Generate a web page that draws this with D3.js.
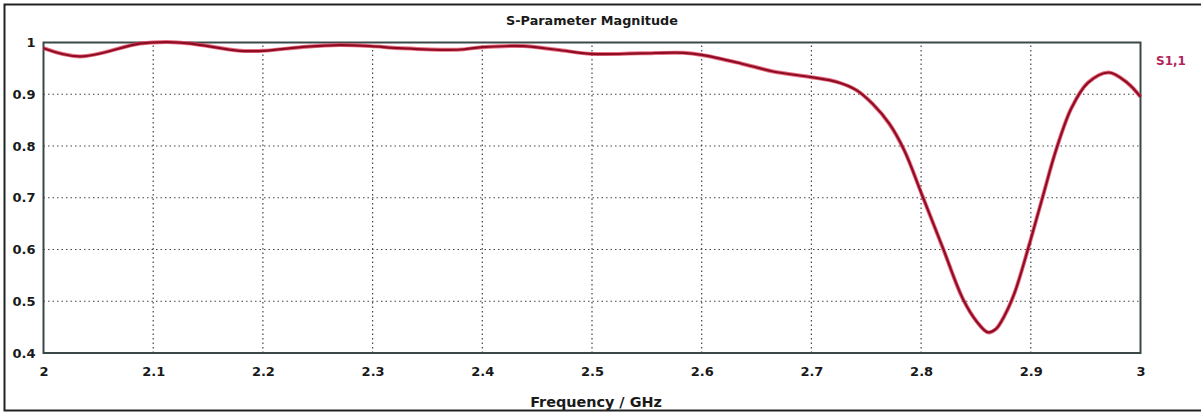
<!DOCTYPE html>
<html>
<head>
<meta charset="utf-8">
<script src="https://cdn.jsdelivr.net/npm/d3@7"></script>
<style>
  body { margin: 0; background: #fff; }
  text { font-family: "DejaVu Sans", Verdana, sans-serif; font-weight: bold; }
</style>
</head>
<body>
<div id="chart"></div>
<script>
// S1,1 magnitude
var freq = [2.0, 2.033, 2.088, 2.113, 2.134, 2.179, 2.2, 2.24, 2.27, 2.298,
  2.325, 2.377, 2.4, 2.437, 2.468, 2.5, 2.544, 2.583, 2.6, 2.635, 2.665,
  2.7, 2.723, 2.741, 2.756, 2.771, 2.785, 2.8, 2.82, 2.838, 2.851, 2.861,
  2.868, 2.876, 2.885, 2.898, 2.911, 2.923, 2.937, 2.952, 2.971, 2.988, 3.0];
var s11 = [0.989, 0.973, 0.998, 1.001, 0.998, 0.984, 0.984, 0.992, 0.995, 0.993,
  0.989, 0.986, 0.991, 0.993, 0.986, 0.978, 0.979, 0.980, 0.976, 0.960, 0.944,
  0.933, 0.924, 0.908, 0.881, 0.843, 0.790, 0.710, 0.602, 0.505, 0.460, 0.440,
  0.446, 0.472, 0.515, 0.605, 0.703, 0.792, 0.873, 0.922, 0.942, 0.922, 0.895];

var xTicks = [2, 2.1, 2.2, 2.3, 2.4, 2.5, 2.6, 2.7, 2.8, 2.9, 3];
var yTicks = [0.4, 0.5, 0.6, 0.7, 0.8, 0.9, 1];

var width = 1201, height = 413;
var margin = {left: 43.5, right: 60.5, top: 42.5, bottom: 60};

var svg = d3.select("#chart").append("svg")
    .attr("width", width)
    .attr("height", height);

// outer frame
svg.append("rect")
    .attr("x", 4.5).attr("y", 4.5)
    .attr("width", width + 10).attr("height", height - 7)
    .style("fill", "none")
    .style("stroke", "#222")
    .style("stroke-width", 2);

var x = d3.scaleLinear().domain([2, 3]).range([margin.left, width - margin.right]);
var y = d3.scaleLinear().domain([0.4, 1]).range([height - margin.bottom, margin.top]);

// dotted grid
var grid = svg.append("g").attr("class", "grid");
grid.selectAll(".vx")
    .data(xTicks.slice(1, -1))
  .enter().append("line")
    .attr("x1", d => x(d)).attr("x2", d => x(d))
    .attr("y1", y(0.4)).attr("y2", y(1))
    .style("stroke", "#444")
    .style("stroke-width", 1.2)
    .style("stroke-dasharray", "1.5,3");
grid.selectAll(".hy")
    .data(yTicks.slice(1, -1))
  .enter().append("line")
    .attr("x1", x(2)).attr("x2", x(3))
    .attr("y1", d => y(d)).attr("y2", d => y(d))
    .style("stroke", "#444")
    .style("stroke-width", 1.2)
    .style("stroke-dasharray", "1.5,3");

// plot frame
svg.append("rect")
    .attr("x", x(2)).attr("y", y(1))
    .attr("width", x(3) - x(2)).attr("height", y(0.4) - y(1))
    .style("fill", "none")
    .style("stroke", "#3a4848")
    .style("stroke-width", 2);

// axes
var xAxis = svg.append("g")
    .attr("transform", "translate(0," + y(0.4) + ")")
    .call(d3.axisBottom(x).tickValues(xTicks).tickSize(0).tickPadding(14)
      .tickFormat(d3.format("")));
var yAxis = svg.append("g")
    .attr("transform", "translate(" + x(2) + ",0)")
    .call(d3.axisLeft(y).tickValues(yTicks).tickSize(0).tickPadding(8)
      .tickFormat(d3.format("")));
[xAxis, yAxis].forEach(function(a) {
    a.select(".domain").remove();
    a.selectAll("text")
      .style("font-size", "13px")
      .style("font-family", "DejaVu Sans, Verdana, sans-serif")
      .style("font-weight", "bold")
      .style("fill", "#1a1a1a");
});

// curve
var line = d3.line()
    .x((d, i) => x(freq[i]))
    .y(d => y(d))
    .curve(d3.curveCatmullRom.alpha(0.5));

svg.append("path")
    .datum(s11)
    .attr("d", line)
    .style("fill", "none")
    .style("stroke", "#e0304c")
    .style("stroke-width", 4)
    .style("opacity", 0.7);
svg.append("path")
    .datum(s11)
    .attr("d", line)
    .style("fill", "none")
    .style("stroke", "#8e0d25")
    .style("stroke-width", 2.2);

// titles
svg.append("text")
    .attr("x", 592).attr("y", 25)
    .attr("text-anchor", "middle")
    .style("font-size", "12.8px")
    .style("fill", "#1a1a1a")
    .text("S-Parameter Magnitude");

svg.append("text")
    .attr("x", 596).attr("y", 407)
    .attr("text-anchor", "middle")
    .style("font-size", "14.4px")
    .style("fill", "#1a1a1a")
    .text("Frequency / GHz");

// legend label
svg.append("text")
    .attr("x", 1156).attr("y", 65)
    .style("font-size", "12px")
    .style("fill", "#b0245a")
    .text("S1,1");
</script>
</body>
</html>
